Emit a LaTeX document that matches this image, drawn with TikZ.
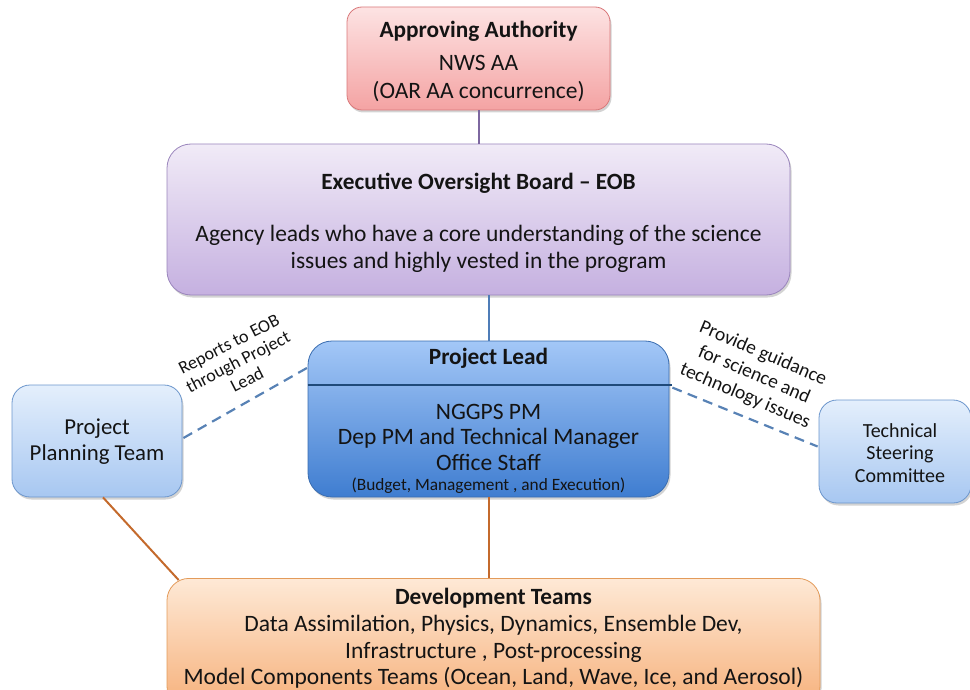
\documentclass[tikz,border=0pt]{standalone}
\usepackage{fontspec}
\setmainfont{Carlito}
\usetikzlibrary{shadows,calc}
\definecolor{txt}{HTML}{141414}
\definecolor{aatop}{HTML}{FDE3E3}
\definecolor{aabot}{HTML}{F4A3A3}
\definecolor{aaline}{HTML}{D9787A}
\definecolor{eobtop}{HTML}{F1EBF7}
\definecolor{eobbot}{HTML}{C5B0E0}
\definecolor{eobline}{HTML}{9A85BC}
\definecolor{pltop}{HTML}{A3C7F7}
\definecolor{plbot}{HTML}{3F7DD0}
\definecolor{plline}{HTML}{3A6DB0}
\definecolor{ltop}{HTML}{E4EFFC}
\definecolor{lbot}{HTML}{A7C7F1}
\definecolor{lline}{HTML}{6C96CC}
\definecolor{dttop}{HTML}{FEE9D6}
\definecolor{dtbot}{HTML}{F6B07A}
\definecolor{dtline}{HTML}{E39B5A}
\definecolor{purp}{HTML}{7D67A0}
\definecolor{bluec}{HTML}{4F7DB8}
\definecolor{dashcol}{HTML}{5882B5}
\definecolor{oran}{HTML}{C46A2C}
\definecolor{darkb}{HTML}{1F4A7A}
\begin{document}
\begin{tikzpicture}[x=1pt,y=-1pt,
  boxbase/.style={line width=0.8pt, inner sep=0pt, text=txt, align=center,
    drop shadow={opacity=0.35, shadow xshift=1.5pt, shadow yshift=-2.5pt}},
  aabox/.style={boxbase, draw=aaline, top color=aatop, bottom color=aabot, rounded corners=15pt},
  eobbox/.style={boxbase, draw=eobline, top color=eobtop, bottom color=eobbot, rounded corners=24pt},
  plbox/.style={boxbase, draw=plline, top color=pltop, bottom color=plbot, rounded corners=24pt},
  lbox/.style={boxbase, draw=lline, top color=ltop, bottom color=lbot, rounded corners=18pt},
  dtbox/.style={boxbase, draw=dtline, top color=dttop, bottom color=dtbot, rounded corners=22pt},
  plain/.style={inner sep=0pt, text=txt, align=center},
  ttl/.style={plain, font=\fontsize{23.3}{28}\selectfont\bfseries},
  bodyA/.style={plain, font=\fontsize{23.5}{28}\selectfont},
  bodyB/.style={plain, font=\fontsize{23.5}{27}\selectfont},
  bodyC/.style={plain, font=\fontsize{23.5}{25.5}\selectfont},
  bodyD/.style={plain, font=\fontsize{23.5}{26.5}\selectfont},
  small/.style={plain, font=\fontsize{17.3}{20}\selectfont},
  lblL/.style={plain, font=\fontsize{18}{20}\selectfont},
  lblR/.style={plain, font=\fontsize{19.5}{23}\selectfont},
  solidc/.style={line width=2pt},
  dashc/.style={line width=2.2pt, draw=dashcol, dash pattern=on 10pt off 6.5pt}
]
\useasboundingbox (0,0) rectangle (970,690);

% boxes
\node[aabox, minimum width=263pt, minimum height=103pt] (aa) at (478.5,58.5) {};
\node[ttl] (aatitle) at (478.5,31) {Approving Authority};
\node[bodyA] (aabody) at (478.5,79) {NWS AA\\(OAR AA concurrence)};

\node[eobbox, minimum width=623pt, minimum height=151pt] (eob) at (478.5,219.5) {};
\node[ttl] (eobtitle) at (478.5,183) {Executive Oversight Board -- EOB};
\node[bodyB] (eobbody) at (478.5,248.5) {Agency leads who have a core understanding of the science\\issues and highly vested in the program};

\node[plbox, minimum width=361pt, minimum height=156pt] (pl) at (488.5,419) {};
\node[ttl] (pltitle) at (488.5,358.5) {Project Lead};
\node[bodyC] (plbody) at (488.5,437) {NGGPS PM\\Dep PM and Technical Manager\\Office Staff};
\node[small] (plsmall) at (488.5,485.5) {(Budget, Management , and Execution)};

\node[lbox, minimum width=170pt, minimum height=112pt] (ppt) at (97,441) {};
\node[plain, font=\fontsize{22.8}{26}\selectfont] (ppttext) at (97,442) {Project\\Planning Team};

\node[lbox, minimum width=152pt, minimum height=103pt] (tsc) at (895,451.5) {};
\node[plain, font=\fontsize{20}{22.5}\selectfont] (tsctext) at (900,453) {Technical\\Steering\\Committee};

\node[dtbox, minimum width=653pt, minimum height=130pt, anchor=north] (dt) at (493.5,578) {};
\node[ttl] (dttitle) at (493.5,598.5) {Development Teams};
\node[bodyD] (dtbody) at (493.5,652) {Data Assimilation, Physics, Dynamics, Ensemble Dev,\\Infrastructure , Post-processing\\Model Components Teams (Ocean, Land, Wave, Ice, and Aerosol)};

% divider in project lead
\coordinate (dl) at ($(pl.north west)+(0,44)$);
\coordinate (dr) at ($(pl.north east)+(3,44)$);
\draw[darkb, line width=2pt] (dl) -- (dr);

% connectors
\draw[purp, solidc] (aa.south) -- (eob.north -| aa.south);
\draw[bluec, solidc] (eob.south -| pl.north) -- (pl.north);

\coordinate (pptr) at ($(ppt.east)+(1,-3)$);
\coordinate (plw) at ($(pl.north west)+(0,27)$);
\draw[dashc] (pptr) -- (plw);

\coordinate (ple) at ($(pl.north east)+(3,47)$);
\coordinate (tscw) at ($(tsc.west)+(-1,-5)$);
\draw[dashc] (ple) -- (tscw);

\coordinate (pptb) at ($(ppt.south)+(6,0)$);
\coordinate (dtnw) at ($(dt.north west)+(12,2)$);
\draw[oran, solidc] (pptb) -- (dtnw);
\draw[oran, solidc] (pl.south) -- (pl.south |- dt.north);

% labels
\node[lblL, rotate=27] (lab1) at (238,362) {Reports to EOB\\through Project\\Lead};
\node[lblR, rotate=-23] (lab2) at (754,375) {Provide guidance\\for science and\\technology issues};
\end{tikzpicture}
\end{document}
